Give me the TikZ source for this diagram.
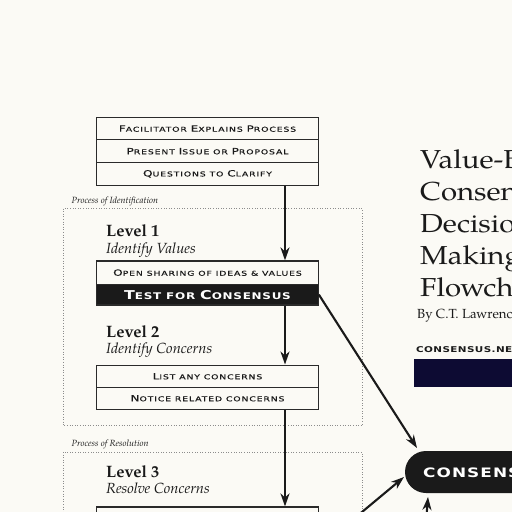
\documentclass[tikz,border=0pt]{standalone}
\usepackage{fontspec}
\usetikzlibrary{arrows.meta}

% wide caps face for the step boxes, heavier one for the consensus labels
\newfontfamily\capsfont{DejaVu Sans}[FakeStretch=1.4,LetterSpace=12,FakeBold=0.5]
\newfontfamily\capsbold{DejaVu Sans Bold}[FakeStretch=1.3,LetterSpace=8]
\newfontfamily\webfont{DejaVu Sans Bold}[FakeStretch=1.3,LetterSpace=5]
% book face for headings, plus a slightly wider cut for the title block
\IfFontExistsTF{TeX Gyre Pagella}
  {\newfontfamily\pal{TeX Gyre Pagella}
   \newfontfamily\palwide{TeX Gyre Pagella}[FakeStretch=1.13]}
  {\newfontfamily\pal{Liberation Serif}
   \newfontfamily\palwide{Liberation Serif}[FakeStretch=1.13]}
% fake small caps: initial letter set at \capsz, the rest at the current size
\newcommand\capsz{9}
\newcommand\Cap[1]{{\fontsize{\capsz}{\capsz}\selectfont #1}}

\definecolor{paper}{HTML}{FBFAF5}
\definecolor{ink}{HTML}{1A1A1A}
\definecolor{rule}{HTML}{2A2A2A}
\definecolor{navy}{HTML}{0D0B33}

\tikzset{
  rowbox/.style={draw=rule, line width=1.1pt, fill=paper, inner sep=0pt,
    minimum width=221.6pt, text=ink,
    font={\capsfont\fontsize{6.7}{7}\selectfont\def\capsz{8.6}}},
  testbox/.style={rowbox, fill=ink, text=white,
    font={\capsbold\fontsize{9.2}{10}\selectfont\def\capsz{12.2}}},
  arr/.style={draw=ink, line width=2.1pt,
    -{Stealth[length=13pt,width=9pt,inset=4pt]}},
  dotbox/.style={draw=black!45, dotted, line width=0.6pt},
  proc/.style={anchor=base west, inner sep=0pt, text=ink,
    font={\pal\itshape\fontsize{9}{10}\selectfont}},
  lvl/.style={anchor=base west, inner sep=0pt, text=ink,
    font={\pal\bfseries\fontsize{16.5}{18}\selectfont}},
  lvlsub/.style={anchor=base west, inner sep=0pt, text=ink,
    font={\pal\itshape\fontsize{14.7}{16}\selectfont}},
  titleline/.style={anchor=base west, inner sep=0pt, text=ink,
    font={\palwide\fontsize{26}{30}\selectfont}},
}

\begin{document}
\begin{tikzpicture}[x=1pt,y=-1pt]
\useasboundingbox (0,0) rectangle (512,512);
\clip (0,0) rectangle (512,512);
\fill[paper] (0,0) rectangle (512,512);

% opening steps
\node[rowbox, minimum height=22.6pt] (f1) at (207.5,128.6) {\Cap{F}ACILITATOR \Cap{E}XPLAINS \Cap{P}ROCESS};
\node[rowbox, minimum height=22.6pt] (f2) at (207.5,151.2) {\Cap{P}RESENT \Cap{I}SSUE OR \Cap{P}ROPOSAL};
\node[rowbox, minimum height=22.6pt] (f3) at (207.5,173.8) {\Cap{Q}UESTIONS TO \Cap{C}LARIFY};

% process of identification
\draw[dotbox] (63,208.5) rectangle (362,425.5);
\node[proc] (pid) at (71.5,203.3) {Process of Identification};

\node[lvl] (l1) at (106,236.5) {Level 1};
\node[lvlsub] (l1s) at (106,253.3) {Identify Values};
\node[rowbox, minimum height=23.3pt] (open) at (207.5,272.6) {\Cap{O}PEN SHARING OF IDEAS \& VALUES};
\node[testbox, minimum height=20.7pt] (test) at (207.5,294.6) {\Cap{T}EST FOR \Cap{C}ONSENSUS};

\node[lvl] (l2) at (106,337.3) {Level 2};
\node[lvlsub] (l2s) at (106,353.3) {Identify Concerns};
\node[rowbox, minimum height=22.3pt] (list) at (207.5,376.2) {\Cap{L}IST ANY CONCERNS};
\node[rowbox, minimum height=21.7pt] (notice) at (207.5,398.2) {\Cap{N}OTICE RELATED CONCERNS};

% process of resolution
\draw[dotbox] (63,452) rectangle (362,600);
\node[proc] (pres) at (71.5,446.7) {Process of Resolution};
\node[lvl] (l3) at (106,477.5) {Level 3};
\node[lvlsub] (l3s) at (106,493.3) {Resolve Concerns};
\node[rowbox, minimum height=22pt] (resolve) at (207.5,518) {};

% title block
\node[titleline] (t1) at (420,168) {Value-Based};
\node[titleline] (t2) at (420,200) {Consensus};
\node[titleline] (t3) at (420,232) {Decision};
\node[titleline] (t4) at (420,264) {Making};
\node[titleline] (t5) at (420,296) {Flowchart};
\node[anchor=base west, inner sep=0pt, text=ink, font={\pal\fontsize{13.2}{15}\selectfont}] (by) at (417,318) {By C.T. Lawrence};
\node[anchor=base west, inner sep=0pt, text=ink, font={\webfont\fontsize{8}{9}\selectfont}] (web) at (416,352.7) {CONSENSUS.NET};
\fill[navy] (413.5,359) rectangle (540,387);

% consensus terminal
\node[fill=ink, rounded corners=21pt, minimum width=240pt, minimum height=42pt, inner sep=0pt] (pill) at (525,472) {};
\node[anchor=base west, inner sep=0pt, text=white, font={\capsbold\fontsize{13}{14}\selectfont}] (pilltext) at (423,477) {CONSENSUS};

% connectors
\coordinate (c1) at (417,448);
\coordinate (c2s) at (350,522);
\coordinate (c2) at (404,477);
\coordinate (c3s) at (425,535);
\coordinate (c3) at (428,497);
\draw[arr] ([xshift=77.5pt]f3.south) -- ([xshift=77.5pt]open.north);
\draw[arr] ([xshift=77.5pt]test.south) -- ([xshift=77.5pt]list.north);
\draw[arr] ([xshift=77.5pt]notice.south) -- ([xshift=77.5pt]resolve.north);
\draw[arr] (test.east) -- (c1);
\draw[arr] (c2s) -- (c2);
\draw[arr] (c3s) -- (c3);
\end{tikzpicture}
\end{document}
